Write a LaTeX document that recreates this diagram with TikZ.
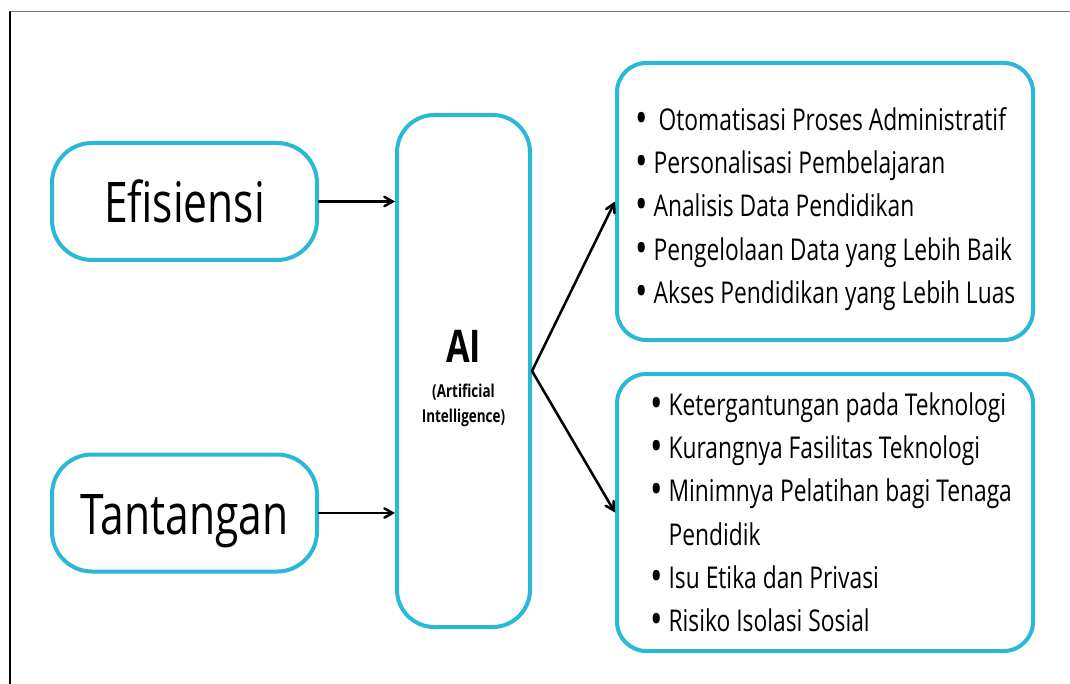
\documentclass[tikz,border=0pt]{standalone}
\usepackage{fontspec}
\setmainfont{Open Sans}[FakeStretch=0.76]
\usepackage{tikz}
\usetikzlibrary{arrows}
\definecolor{wwbbdd}{rgb}{0.16,0.72,0.84}
\definecolor{bebebe}{rgb}{0.47,0.47,0.47}
\newcommand{\butir}{\raisebox{-0.1em}{\scalebox{1.45}{\textbullet}}}
\tikzstyle{every node}=[inner sep=0pt]
\tikzstyle{kotak}=[draw=wwbbdd,line width=3pt]
\tikzstyle{judul}=[font=\fontsize{42pt}{50pt}\selectfont,text height=32pt,text depth=0pt]
\tikzstyle{daftar}=[align=left,font=\fontsize{22.5pt}{32.5pt}\selectfont]

\begin{document}
\begin{tikzpicture}[line cap=round,line join=round,>=angle 60,x=0.75pt,y=-0.75pt]
            \useasboundingbox (0,0) rectangle (1070,684);
            \draw [line width=0.75pt,color=bebebe] (10,12) -- (1070,12);
            \draw [line width=1.5pt] (10,12) -- (10,684);
            % kotak kiri
            \node [kotak,judul,rounded corners=30pt,minimum width=198.75pt,minimum height=87.75pt] (efisiensi) at (184.5,201.5) {Efisiensi};
            \node [kotak,judul,rounded corners=30pt,minimum width=198.75pt,minimum height=87.75pt] (tantangan) at (184.5,513) {Tantangan};
            % kotak tengah
            \node [kotak,rounded corners=28pt,minimum width=99.75pt,minimum height=384pt] (ai) at (463.5,371) {};
            \node [anchor=base,font=\fontsize{33.75pt}{40pt}\selectfont\bfseries] (aijudul) at (463.5,362) {AI};
            \node [align=center,font=\fontsize{13.3pt}{18.75pt}\selectfont\bfseries] (aiket) at (463.5,405) {(Artificial\\Intelligence)};
            % kotak kanan
            \node [kotak,rounded corners=22pt,minimum width=312pt,minimum height=207.75pt] (manfaat) at (825,201.5) {};
            \node [kotak,rounded corners=22pt,minimum width=312pt,minimum height=207.75pt] (kendala) at (825,512.5) {};
            \node [daftar,anchor=north west] (manfaatisi) at (635,107) {\butir\ \,Otomatisasi Proses Administratif\\
                \butir\ Personalisasi Pembelajaran\\
                \butir\ Analisis Data Pendidikan\\
                \butir\ Pengelolaan Data yang Lebih Baik\\
                \butir\ Akses Pendidikan yang Lebih Luas};
            \node [daftar,anchor=north west] (kendalaisi) at (650,392) {\butir\ Ketergantungan pada Teknologi\\
                \butir\ Kurangnya Fasilitas Teknologi\\
                \butir\ Minimnya Pelatihan bagi Tenaga\\
                \hphantom{\butir\ }Pendidik\\
                \butir\ Isu Etika dan Privasi\\
                \butir\ Risiko Isolasi Sosial};
            % panah
            \draw [->,line width=1.9pt] (efisiensi) -- (ai.west |- efisiensi);
            \draw [->,line width=1.9pt] (tantangan) -- (ai.west |- tantangan);
            \draw [->,line width=1.9pt] (ai.east) -- (manfaat.west);
            \draw [->,line width=1.9pt] (ai.east) -- (kendala.west);
\end{tikzpicture}
\end{document}
